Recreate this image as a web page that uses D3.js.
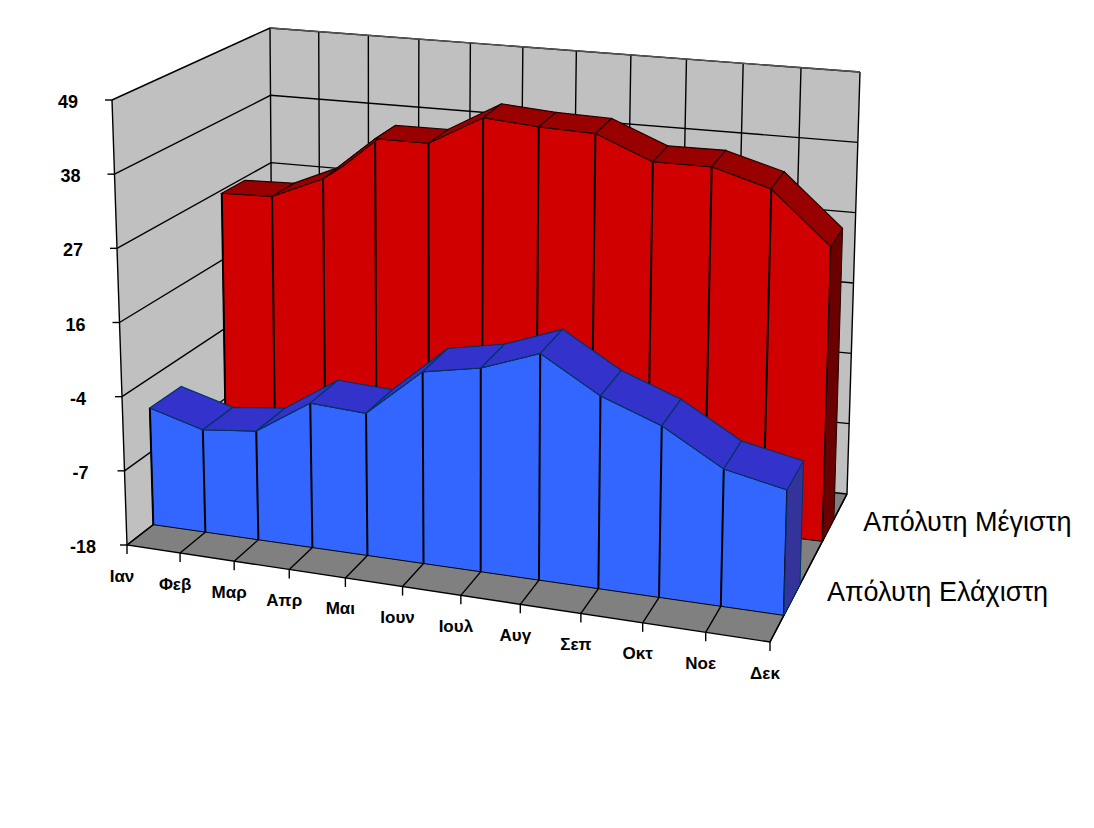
<!DOCTYPE html>
<html>
<head>
<meta charset="utf-8">
<script src="https://cdn.jsdelivr.net/npm/d3@7"></script>
<style>
body { margin: 0; background: #fff; }
text { font-family: "Liberation Sans", Arial, sans-serif; }
</style>
</head>
<body>
<svg id="chart" width="1094" height="828"></svg>
<script>
// data
var months = ["Ιαν", "Φεβ", "Μαρ", "Απρ", "Μαι", "Ιουν", "Ιουλ", "Αυγ", "Σεπ", "Οκτ", "Νοε", "Δεκ"];
var maxTemps = [26.5, 26.8, 30.4, 37.5, 37.6, 42.4, 41.8, 41.6, 38.1, 38.2, 35.7, 27.8];
var minTemps = [0.6, -1.6, -0.7, 4.6, 4.2, 11.5, 13.2, 16.5, 11.4, 8.2, 3.1, 1.3];
var yTicks = [-17, -6, 5, 16, 27, 38, 49];
var yTickLabels = ["-18", "-7", "-4", "16", "27", "38", "49"];
var seriesNames = ["Απόλυτη Μέγιστη", "Απόλυτη Ελάχιστη"];

var svg = d3.select("#chart");

// box corners on screen (u = category, v = value, w = depth)
var D = [127, 545], A = [112, 100], B = [270, 28], G = [273, 432];
var E = [770, 642], H = [782, 183], C = [860, 72], F = [847, 494];

var xScale = d3.scalePoint().domain(months).range([0, 1]);
var yScale = d3.scaleLinear().domain([-17, 49]).range([0, 1]);

// a little perspective along the category axis
function persp(u) { return 0.9 * u / (1 - 0.1 * u); }
function ux(m) { return persp(xScale(m)); }

function proj(u, v, w) {
    var out = [0, 0];
    for (var k = 0; k < 2; k++) {
        var bot = (1 - u) * (1 - w) * D[k] + u * (1 - w) * E[k] + (1 - u) * w * G[k] + u * w * F[k];
        var top = (1 - u) * (1 - w) * A[k] + u * (1 - w) * H[k] + (1 - u) * w * B[k] + u * w * C[k];
        out[k] = (1 - v) * bot + v * top;
    }
    return out;
}

var line = d3.line();
function poly(pts) { return line(pts) + "Z"; }

// walls and floor
var walls = svg.append("g");
walls.append("path").attr("d", poly([proj(0, 0, 0), proj(0, 1, 0), proj(0, 1, 1), proj(0, 0, 1)]))
    .attr("fill", "#c0c0c0");
walls.append("path").attr("d", poly([proj(0, 0, 1), proj(0, 1, 1), proj(1, 1, 1), proj(1, 0, 1)]))
    .attr("fill", "#c0c0c0");
walls.append("path").attr("d", poly([proj(0, 0, 0), proj(1, 0, 0), proj(1, 0, 1), proj(0, 0, 1)]))
    .attr("fill", "#808080");

var grid = svg.append("g").attr("stroke", "#000").attr("stroke-width", 1.4).attr("fill", "none");
yTicks.forEach(function(t) {
    var v = yScale(t);
    grid.append("path").attr("d", line([proj(0, v, 0), proj(0, v, 1), proj(1, v, 1)]));
});
months.forEach(function(m) {
    var u = ux(m);
    grid.append("path").attr("d", line([proj(u, 0, 0), proj(u, 0, 1), proj(u, 1, 1)]));
});
grid.append("path").attr("d", line([proj(0, 1, 0), proj(0, 0, 0), proj(1, 0, 0), proj(1, 0, 1)]));
grid.append("path").attr("d", line([proj(0, 1, 1), proj(1, 1, 1)])).attr("stroke", "#555");

// axis ticks
yTicks.forEach(function(t) {
    var p = proj(0, yScale(t), 0);
    grid.append("path").attr("d", line([[p[0] - 7, p[1]], p]));
});
months.forEach(function(m) {
    var p = proj(ux(m), 0, 0);
    grid.append("path").attr("d", line([p, [p[0], p[1] + 9]]));
});

// series as 3D ribbons
function drawSeries(values, w0, w1, col) {
    var g = svg.append("g");
    var tops = months.map(function(m, i) { return [ux(m), yScale(values[i])]; });
    var front = tops.map(function(t) { return proj(t[0], t[1], w0); });
    front.push(proj(1, 0, w0));
    front.push(proj(0, 0, w0));
    g.append("path").attr("d", poly(front))
        .attr("fill", col.front).attr("stroke", "#000").attr("stroke-width", 1);

    tops.forEach(function(t) {
        g.append("path").attr("d", line([proj(t[0], 0, w0), proj(t[0], t[1], w0)]))
            .attr("stroke", "#000").attr("stroke-width", 2);
    });

    for (var i = 0; i < tops.length - 1; i++) {
        var a = tops[i], b = tops[i + 1];
        g.append("path")
            .attr("d", poly([proj(a[0], a[1], w0), proj(b[0], b[1], w0), proj(b[0], b[1], w1), proj(a[0], a[1], w1)]))
            .attr("fill", col.top).attr("stroke", col.edge).attr("stroke-width", 1.2);
    }

    var last = tops[tops.length - 1];
    g.append("path")
        .attr("d", poly([proj(1, 0, w0), proj(1, last[1], w0), proj(1, last[1], w1), proj(1, 0, w1)]))
        .attr("fill", col.side).attr("stroke", col.edge).attr("stroke-width", 1);
}

drawSeries(maxTemps, 0.68, 0.83, { front: "#d00000", top: "#990000", side: "#6a0000", edge: "#220000" });
drawSeries(minTemps, 0.18, 0.39, { front: "#3366ff", top: "#3333cc", side: "#333399", edge: "#003366" });

// labels
var labels = svg.append("g").attr("fill", "#000");
yTicks.forEach(function(t, i) {
    var p = proj(0, yScale(t), 0);
    labels.append("text")
        .attr("x", p[0] - 44).attr("y", p[1] + 2)
        .attr("text-anchor", "middle").attr("dominant-baseline", "central")
        .attr("font-size", 18).attr("font-weight", "bold")
        .text(yTickLabels[i]);
});
months.forEach(function(m) {
    var p = proj(ux(m), 0, 0);
    labels.append("text")
        .attr("x", p[0] - 5).attr("y", p[1] + 31)
        .attr("text-anchor", "middle").attr("dominant-baseline", "central")
        .attr("font-size", 17).attr("font-weight", "bold")
        .text(m);
});
[0.755, 0.285].forEach(function(w, i) {
    var p = proj(1, 0, w);
    labels.append("text")
        .attr("x", p[0] + 35).attr("y", p[1] + 1)
        .attr("font-size", 27)
        .text(seriesNames[i]);
});
</script>
</body>
</html>
